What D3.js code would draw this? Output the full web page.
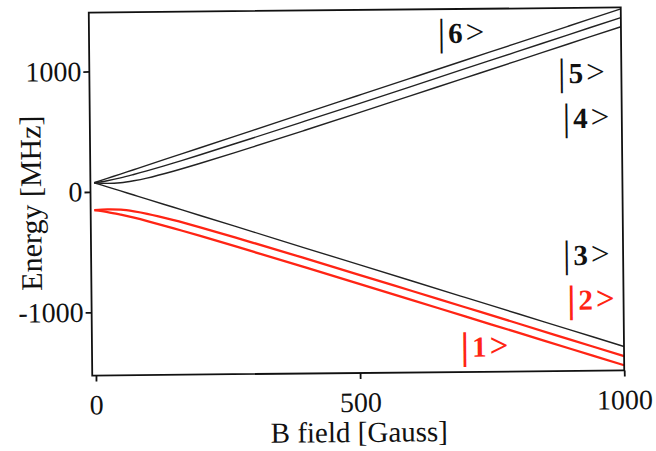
<!DOCTYPE html>
<html>
<head>
<meta charset="utf-8">
<script src="https://cdnjs.cloudflare.com/ajax/libs/d3/7.8.5/d3.min.js"></script>
<style>
  body { margin: 0; background: #fff; }
  svg { display: block; }
</style>
</head>
<body>
<div id="chart"><svg></svg></div>
<script>
// field values (Gauss) and energies (MHz) of the six states
const bField = [0, 25, 50, 75, 100, 150, 200, 300, 400, 500, 600, 700, 800, 900, 1000];
const state6 = [76, 111, 146, 181, 216, 286, 356, 496, 637, 777, 917, 1057, 1197, 1337, 1477];
const state5 = [76, 92, 114, 141, 170, 232, 298, 433, 570, 708, 847, 987, 1126, 1266, 1405];
const state4 = [76, 70, 74, 89, 110, 165, 227, 359, 495, 633, 772, 911, 1050, 1190, 1329];
const state3 = [76, 41, 6, -29, -64, -134, -204, -344, -485, -625, -765, -905, -1045, -1185, -1325];
const state2 = [-152, -146, -150, -165, -186, -241, -303, -435, -571, -709, -848, -987, -1126, -1266, -1406];
const state1 = [-152, -168, -191, -217, -246, -309, -374, -509, -646, -784, -923, -1063, -1202, -1342, -1481];

const xTicks = [0, 500, 1000];
const yTicks = [-1000, 0, 1000];

const stateLabels = [
  { name: '6', b: 653, e: 1207, red: false },
  { name: '5', b: 880, e: 866, red: false },
  { name: '4', b: 888, e: 493, red: false },
  { name: '3', b: 886, e: -644, red: false },
  { name: '2', b: 893, e: -1017, red: true },
  { name: '1', b: 691, e: -1398, red: true },
];

const WIDTH = 656;
const HEIGHT = 451;
const PLOT = { left: 90.5, right: 622.5, top: 10, bottom: 373 };
const RED = '#ff2414';
const FONT = '"Liberation Serif", "DejaVu Serif", serif';

const svg = d3.select('#chart').select('svg')
  .attr('width', WIDTH)
  .attr('height', HEIGHT)
  .style('font-family', FONT);

// the original is a slightly tilted scan
const chart = svg.append('g').attr('transform', 'rotate(-0.55, 356, 192)');

const xScale = d3.scaleLinear().domain([-7, 1000]).range([PLOT.left, PLOT.right]);
const yScale = d3.scaleLinear().domain([-1524, 1489]).range([PLOT.bottom, PLOT.top]);

const series = [
  { values: state6, color: '#222', width: 1.4 },
  { values: state5, color: '#222', width: 1.4 },
  { values: state4, color: '#222', width: 1.4 },
  { values: state3, color: '#222', width: 1.4 },
  { values: state2, color: RED, width: 2.3 },
  { values: state1, color: RED, width: 2.3 },
];

const line = d3.line()
  .x(d => xScale(d[0]))
  .y(d => yScale(d[1]))
  .curve(d3.curveCatmullRom);

chart.selectAll('.curve')
  .data(series)
  .enter()
  .append('path')
  .classed('curve', true)
  .attr('d', s => line(bField.map((b, i) => [b, s.values[i]])))
  .attr('fill', 'none')
  .attr('stroke', s => s.color)
  .attr('stroke-width', s => s.width);

// frame
chart.append('rect')
  .attr('x', PLOT.left)
  .attr('y', PLOT.top)
  .attr('width', PLOT.right - PLOT.left)
  .attr('height', PLOT.bottom - PLOT.top)
  .attr('fill', 'none')
  .attr('stroke', '#111')
  .attr('stroke-width', 1.8);

const xAxis = chart.append('g')
  .attr('transform', `translate(0, ${PLOT.bottom})`)
  .call(d3.axisBottom(xScale).tickValues(xTicks).tickFormat(d => String(d))
    .tickSize(6).tickPadding(13).tickSizeOuter(0));

const yAxis = chart.append('g')
  .attr('transform', `translate(${PLOT.left}, 0)`)
  .call(d3.axisLeft(yScale).tickValues(yTicks).tickFormat(d => String(d))
    .tickSize(6).tickPadding(2).tickSizeOuter(0));

[xAxis, yAxis].forEach(ax => {
  ax.attr('font-family', null).attr('font-size', 28);
  ax.select('.domain').remove();
  ax.selectAll('line').attr('stroke', '#111').attr('stroke-width', 1.8);
  ax.selectAll('text').attr('fill', '#111');
});

chart.append('text')
  .attr('x', 357)
  .attr('y', 442)
  .attr('text-anchor', 'middle')
  .attr('font-size', 29)
  .attr('fill', '#111')
  .text('B field [Gauss]');

chart.append('text')
  .attr('transform', 'translate(41, 200) rotate(-90)')
  .attr('text-anchor', 'middle')
  .attr('font-size', 30)
  .attr('fill', '#111')
  .text('Energy [MHz]');

// state labels |n>
const labels = chart.selectAll('.state-label')
  .data(stateLabels)
  .enter()
  .append('text')
  .classed('state-label', true)
  .attr('x', d => xScale(d.b))
  .attr('y', d => yScale(d.e))
  .attr('fill', d => d.red ? RED : '#111')
  .attr('font-weight', d => d.red ? 'bold' : 'normal');

labels.append('tspan').attr('font-size', 38).attr('dy', 2).text('|');
labels.append('tspan').attr('font-size', 29).attr('font-weight', 'bold').attr('dx', 3).attr('dy', -2).text(d => d.name);
labels.append('tspan').attr('font-size', 33).attr('dx', 3).text('>');
</script>
</body>
</html>
